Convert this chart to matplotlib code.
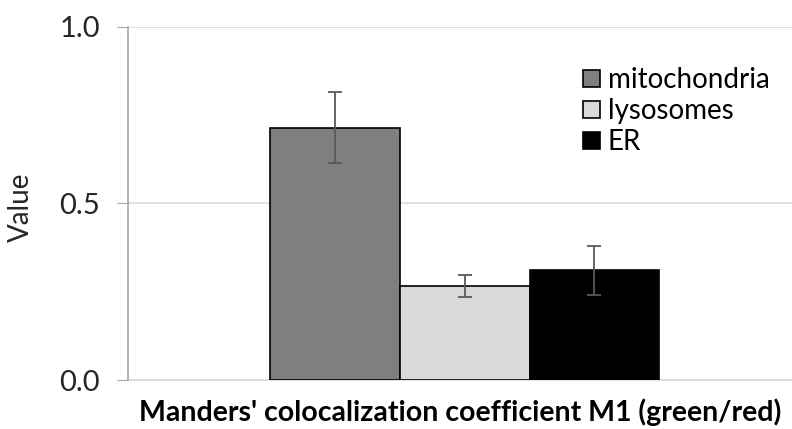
import matplotlib.pyplot as plt

# Manders' M1 coefficients per organelle marker
labels = ["mitochondria", "lysosomes", "ER"]
values = [0.714, 0.266, 0.310]
errors = [0.100, 0.030, 0.070]
colors = ["#7f7f7f", "#d9d9d9", "#000000"]
positions = [-1, 0, 1]

plt.rcParams['font.family'] = ['Lato', 'DejaVu Sans']

fig = plt.figure(figsize=(7.92, 4.29), dpi=100)
ax = fig.add_axes([0.1616, 0.1142, 0.8384, 0.824])

for pos, val, err, col, lab in zip(positions, values, errors, colors, labels):
    ax.bar(pos, val, width=1.0, color=col, edgecolor="black", linewidth=1.2,
           label=lab, zorder=3)
    ax.errorbar(pos, val, yerr=err, fmt="none", ecolor="#595959",
                elinewidth=1.3, capsize=5, capthick=1.3, zorder=4)

ax.set_xlim(-2.59, 2.52)
ax.set_ylim(0, 1.0)
ax.set_yticks([0.0, 0.5, 1.0])
ax.set_yticklabels(["0.0", "0.5", "1.0"], fontsize=21)
ax.set_xticks([])
ax.yaxis.grid(True, color="#d9d9d9", linewidth=1.2, zorder=0)
ax.set_axisbelow(True)

for side in ["top", "right"]:
    ax.spines[side].set_visible(False)
ax.spines["left"].set_color("#a6a6a6")
ax.spines["left"].set_linewidth(1.2)
ax.spines["bottom"].set_color("#d9d9d9")
ax.spines["bottom"].set_linewidth(1.2)
ax.tick_params(axis="y", length=8, color="#a6a6a6", pad=12, labelcolor="#262626")
ax.spines["left"].set_zorder(5)

ax.set_ylabel("Value", fontsize=20, color="#262626")
ax.yaxis.set_label_coords(-0.1416, 0.49)
ax.set_xlabel("Manders' colocalization coefficient M1 (green/red)",
              fontsize=20.5, fontweight="bold", color="black", labelpad=13)

ax.legend(loc="upper left", bbox_to_anchor=(0.736, 0.843),
          bbox_transform=fig.transFigure, frameon=False, fontsize=20,
          handlelength=0.6, handleheight=0.6, handletextpad=0.3,
          labelspacing=0.18, borderaxespad=0, borderpad=0)

fig.savefig("out.png", dpi=100)
